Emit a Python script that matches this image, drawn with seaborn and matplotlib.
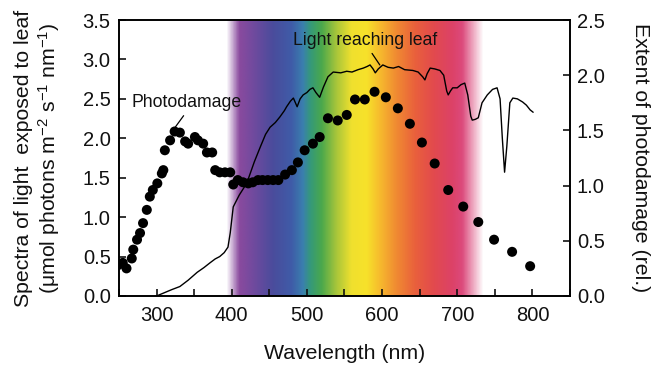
import numpy as np
import pandas as pd
import matplotlib
matplotlib.use("Agg")
import matplotlib.pyplot as plt
import seaborn as sns
from matplotlib.colors import LinearSegmentedColormap

# ---- data ----
light_nm = [300, 310, 320, 331, 342, 354, 363, 371, 378, 384, 390, 395, 398, 402, 410, 420, 430, 438,
            445, 451, 458, 464, 470, 473, 478, 482, 487, 491, 495, 500, 504, 508, 512, 517, 522, 528,
            535, 545, 553, 560, 568, 575, 580, 584, 588, 591, 595, 601, 608, 615, 622, 630, 641, 648,
            654, 657, 660, 664, 670, 677, 682, 686, 688, 691, 694, 700, 705, 710, 714, 718, 720, 724,
            728, 733, 740, 747, 753, 757, 760, 763, 766, 770, 774, 780, 787, 792, 797, 801]
light_val = [0.0, 0.04, 0.08, 0.12, 0.20, 0.30, 0.36, 0.42, 0.47, 0.50, 0.55, 0.62, 0.80, 1.13, 1.28,
             1.43, 1.70, 1.89, 2.05, 2.14, 2.20, 2.27, 2.35, 2.40, 2.47, 2.51, 2.40, 2.50, 2.55, 2.58,
             2.62, 2.64, 2.58, 2.52, 2.65, 2.78, 2.84, 2.83, 2.85, 2.84, 2.87, 2.89, 2.91, 2.93, 2.88,
             2.83, 2.88, 2.93, 2.90, 2.89, 2.91, 2.87, 2.86, 2.84, 2.78, 2.74, 2.82, 2.89, 2.88, 2.86,
             2.80, 2.60, 2.55, 2.60, 2.64, 2.64, 2.68, 2.70, 2.55, 2.28, 2.23, 2.24, 2.26, 2.45, 2.55,
             2.62, 2.64, 2.50, 2.00, 1.57, 1.90, 2.45, 2.51, 2.50, 2.46, 2.42, 2.36, 2.33]

damage_nm = [249, 255, 260, 267, 269, 274, 278, 282, 287, 291, 295, 301, 307, 309, 311, 318, 324, 331,
             338, 342, 351, 355, 362, 367, 374, 378, 384, 391, 398, 402, 408, 415, 422, 428, 435, 441,
             448, 455, 462, 471, 480, 488, 497, 508, 517, 528, 541, 553, 564, 577, 590, 605, 621, 637,
             653, 670, 688, 708, 728, 749, 773, 797]
damage_val = [0.28, 0.30, 0.25, 0.34, 0.42, 0.51, 0.57, 0.66, 0.78, 0.90, 0.96, 1.02, 1.11, 1.14, 1.32,
              1.41, 1.49, 1.48, 1.40, 1.38, 1.44, 1.41, 1.38, 1.30, 1.30, 1.14, 1.12, 1.12, 1.12, 1.01,
              1.05, 1.03, 1.02, 1.03, 1.05, 1.05, 1.05, 1.05, 1.05, 1.10, 1.14, 1.21, 1.32, 1.38, 1.44,
              1.61, 1.59, 1.64, 1.78, 1.78, 1.85, 1.80, 1.70, 1.56, 1.39, 1.20, 0.96, 0.81, 0.67, 0.51,
              0.40, 0.27]

x_ticks = [300, 400, 500, 600, 700, 800]
left_ticks = [0.0, 0.5, 1.0, 1.5, 2.0, 2.5, 3.0, 3.5]
right_ticks = [0.0, 0.5, 1.0, 1.5, 2.0, 2.5]

spectrum_stops = [(393, "#ffffff"), (410, "#8a4a9e"), (430, "#6f4a9e"), (455, "#4a4c9c"),
                  (480, "#3f5ca8"), (495, "#3a7fae"), (505, "#35997a"), (520, "#4aa84c"),
                  (540, "#a9c63a"), (560, "#f0e02e"), (580, "#f7e22a"), (600, "#f6b62e"),
                  (620, "#f08a32"), (645, "#e9603c"), (670, "#e24a4e"), (695, "#dc4268"),
                  (708, "#dc4a7c"), (736, "#ffffff")]

# ---- style ----
sns.set_style("ticks")
plt.rcParams["font.family"] = ["Liberation Sans", "DejaVu Sans"]
plt.rcParams["mathtext.fontset"] = "custom"
plt.rcParams["mathtext.rm"] = "Liberation Sans"
plt.rcParams["mathtext.it"] = "Liberation Sans:italic"
plt.rcParams["mathtext.bf"] = "Liberation Sans:bold"
for key in ("text.color", "axes.labelcolor", "xtick.color", "ytick.color"):
    plt.rcParams[key] = "#111111"

fig = plt.figure(figsize=(6.64, 3.67), dpi=100)
ax = fig.add_axes([0.1792, 0.1935, 0.6792, 0.752])

# rainbow band
lo, hi = spectrum_stops[0][0], spectrum_stops[-1][0]
cmap = LinearSegmentedColormap.from_list(
    "spec", [((w - lo) / (hi - lo), c) for w, c in spectrum_stops])
grad = np.linspace(0, 1, 600).reshape(1, -1)
ax.imshow(grad, cmap=cmap, aspect="auto", extent=[lo, hi, 0, 3.5], zorder=0,
          interpolation="bilinear")

df_light = pd.DataFrame({"nm": light_nm, "val": light_val})
sns.lineplot(data=df_light, x="nm", y="val", ax=ax, color="black", lw=1.0, zorder=3)

ax.set_xlim(250, 850)
ax.set_ylim(0, 3.5)
ax.set_xticks(x_ticks)
ax.set_xticks(np.arange(250, 851, 50), minor=True)
ax.set_yticks(left_ticks)
ax.set_yticklabels([f"{v:.1f}" for v in left_ticks])
ax.tick_params(axis="both", which="both", direction="in", labelsize=14.5, width=1.2)
ax.tick_params(axis="both", which="major", length=5)
ax.tick_params(axis="x", which="minor", length=5)
ax.tick_params(axis="x", pad=7)
ax.tick_params(axis="y", pad=6)
ax.set_xlabel("Wavelength (nm)", fontsize=15.3, labelpad=14)
ax.set_ylabel("Spectra of light  exposed to leaf\n(μmol photons m$^{-2}$ s$^{-1}$ nm$^{-1}$)",
              fontsize=15.3, linespacing=1.15, labelpad=15)

ax2 = ax.twinx()
df_dmg = pd.DataFrame({"nm": damage_nm, "val": damage_val})
sns.scatterplot(data=df_dmg, x="nm", y="val", ax=ax2, color="black", s=52,
                edgecolor="none", zorder=4)
ax2.set_ylim(0, 2.5)
ax2.set_yticks(right_ticks)
ax2.set_yticklabels([f"{v:.1f}" for v in right_ticks])
ax2.tick_params(axis="y", direction="in", length=5, width=1.2, labelsize=14.5, pad=5)
ax2.set_ylabel("Extent of photodamage (rel.)", fontsize=15.3, rotation=270,
               va="bottom", labelpad=19)
ax2.set_xlabel("")

for a in (ax, ax2):
    for s in a.spines.values():
        s.set_linewidth(1.2)
        s.set_color("black")

ax.annotate("Photodamage", xy=(324, 2.13), xytext=(267, 2.45), fontsize=12.7,
            ha="left", va="center", zorder=6,
            arrowprops=dict(arrowstyle="-", color="black", lw=0.9,
                            relpos=(0.5, 0.0), shrinkA=1, shrinkB=0))
ax.annotate("Light reaching leaf", xy=(597, 2.93), xytext=(481, 3.24), fontsize=12.7,
            ha="left", va="center", zorder=6,
            arrowprops=dict(arrowstyle="-", color="black", lw=0.9,
                            relpos=(0.53, 0.0), shrinkA=1, shrinkB=0))

fig.savefig("out.png", dpi=100)
